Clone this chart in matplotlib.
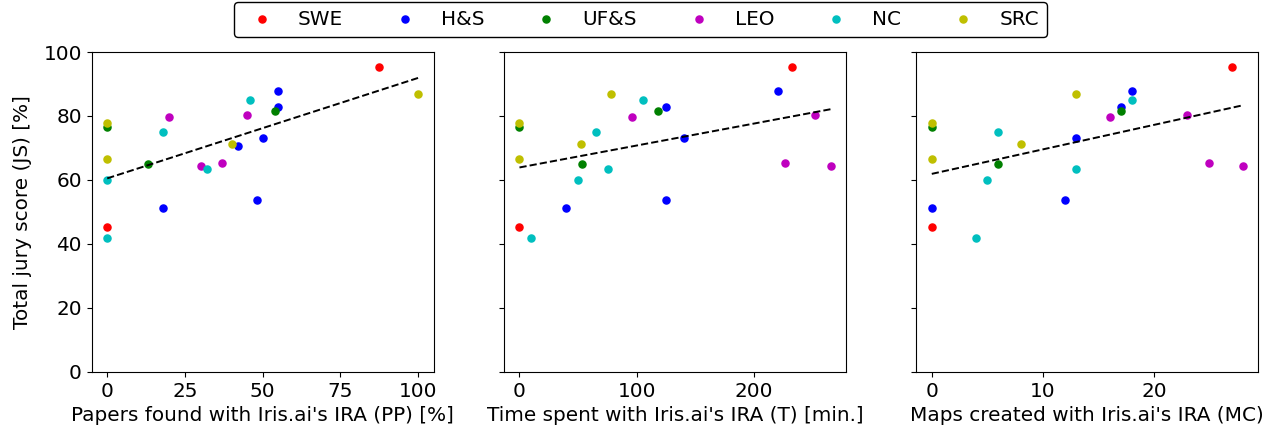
import numpy as np
import matplotlib
matplotlib.use("Agg")
import matplotlib.pyplot as plt

plt.rcParams['font.size'] = 14.4

groups = ["SWE", "H&S", "UF&S", "LEO", "NC", "SRC"]
colors = ["r", "b", "g", "m", "c", "y"]

# per-group data: papers found (PP, %), time spent (T, min), maps created (MC), jury score (JS, %)
pp_swe = [87.5, 0]
t_swe = [232, 0]
mc_swe = [27, 0]
js_swe = [95.3, 45.3]

pp_hs = [55, 55, 50, 42, 48, 18]
t_hs = [220, 125, 140, np.nan, 125, 40]
mc_hs = [18, 17, 13, np.nan, 12, 0]
js_hs = [87.8, 82.9, 73.2, 70.6, 53.6, 51.2]

pp_ufs = [54, 0, 13]
t_ufs = [118, 0, 53]
mc_ufs = [17, 0, 6]
js_ufs = [81.6, 76.6, 65.0]

pp_leo = [45, 20, 37, 30]
t_leo = [252, 96, 226, 265]
mc_leo = [23, 16, 25, 28]
js_leo = [80.4, 79.7, 65.4, 64.3]

pp_nc = [46, 18, 32, 0, 0]
t_nc = [105, 65, 75, 50, 10]
mc_nc = [18, 6, 13, 5, 4]
js_nc = [85.0, 75.1, 63.3, 60.0, 41.7]

pp_src = [100, 0, 40, 0]
t_src = [78, 0, 52, 0]
mc_src = [13, 0, 8, 0]
js_src = [86.8, 77.8, 71.1, 66.6]

PP = [pp_swe, pp_hs, pp_ufs, pp_leo, pp_nc, pp_src]
T = [t_swe, t_hs, t_ufs, t_leo, t_nc, t_src]
MC = [mc_swe, mc_hs, mc_ufs, mc_leo, mc_nc, mc_src]
JS = [js_swe, js_hs, js_ufs, js_leo, js_nc, js_src]

xlabels = ["Papers found with Iris.ai's IRA (PP) [%]",
           "Time spent with Iris.ai's IRA (T) [min.]",
           "Maps created with Iris.ai's IRA (MC)"]

fig, axes = plt.subplots(1, 3, figsize=(12.73, 4.37), dpi=100, sharey=True)
fig.subplots_adjust(left=0.072, right=0.9885, top=0.881, bottom=0.149, wspace=0.205)

for ax, X, xl in zip(axes, [PP, T, MC], xlabels):
    for xs, ys, c, g in zip(X, JS, colors, groups):
        ax.scatter(xs, ys, s=26, c=c, label=g, zorder=2)
    allx = np.concatenate([np.asarray(v, float) for v in X])
    ally = np.concatenate([np.asarray(v, float) for v in JS])
    m = ~np.isnan(allx)
    k, b = np.polyfit(allx[m], ally[m], 1)
    xx = np.array([allx[m].min(), allx[m].max()])
    ax.plot(xx, k * xx + b, 'k--', lw=1.4, zorder=3)
    ax.set_xlabel(xl)
    ax.set_ylim(0, 100)

axes[0].set_ylabel("Total jury score (JS) [%]", labelpad=8)
axes[0].set_yticks([0, 20, 40, 60, 80, 100])

handles, labels = axes[0].get_legend_handles_labels()
fig.legend(handles, labels, loc='upper center', bbox_to_anchor=(0.503, 0.996),
           ncol=6, edgecolor='k', framealpha=1, borderaxespad=0,
           columnspacing=2.1)

fig.savefig("out.png", dpi=100)
